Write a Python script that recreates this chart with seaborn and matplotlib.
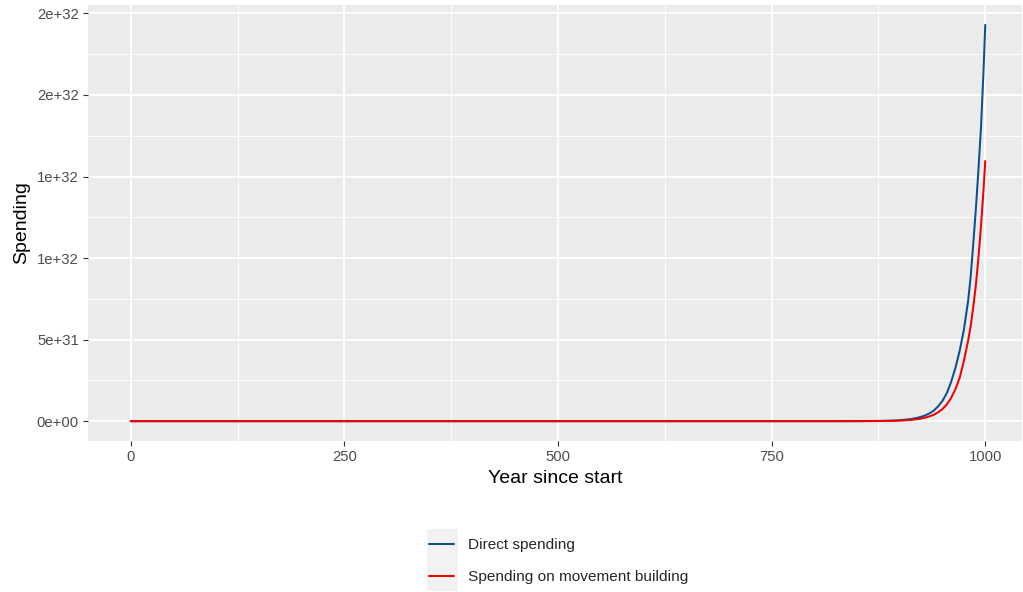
import numpy as np
import pandas as pd
import matplotlib
matplotlib.use("Agg")
import matplotlib.pyplot as plt
from matplotlib.patches import Rectangle
from matplotlib.ticker import FixedLocator, FixedFormatter
import seaborn as sns

# ---- data (spending, year since start)
YEARS = [0, 100, 200, 300, 400, 500, 600, 700, 800, 850, 875, 890, 900, 910, 915, 920,
         925, 930, 935, 940, 945, 950, 955, 960, 965, 970, 975, 980, 983, 986, 989,
         992, 995, 998, 1000]
DIRECT = [0, 0, 0, 0, 0, 0, 0, 0, 5e27, 4e28, 1.5e29, 3.2e29, 6e29, 1.1e30, 1.5e30, 2.0e30,
          2.7e30, 3.6e30, 4.9e30, 6.6e30, 9.2e30, 1.25e31, 1.72e31, 2.4e31, 3.25e31,
          4.3e31, 5.6e31, 7.4e31, 8.9e31, 1.09e32, 1.30e32, 1.54e32, 1.80e32, 2.15e32,
          2.43e32]
MOVEMENT = [0, 0, 0, 0, 0, 0, 0, 0, 3e27, 2e28, 8e28, 1.8e29, 3.5e29, 6.5e29, 9e29, 1.2e30,
            1.6e30, 2.2e30, 3.0e30, 4.0e30, 5.5e30, 7.5e30, 1.02e31, 1.42e31, 1.95e31,
            2.65e31, 3.7e31, 4.95e31, 5.85e31, 7.0e31, 8.35e31, 1.0e32, 1.195e32,
            1.42e32, 1.595e32]
SERIES = ["Direct spending", "Spending on movement building"]
X_TICKS = [0, 250, 500, 750, 1000]
X_MINOR = [125, 375, 625, 875]
Y_TICKS = [0, 5e31, 1e32, 1.5e32, 2e32, 2.5e32]
Y_TICK_LABELS = ["0e+00", "5e+31", "1e+32", "1e+32", "2e+32", "2e+32"]
Y_MINOR = [2.5e31, 7.5e31, 1.25e32, 1.75e32, 2.25e32]

COLORS = {SERIES[0]: "#0B4F93", SERIES[1]: "#F00000"}

df = pd.concat([
    pd.DataFrame({"year": YEARS, "spending": DIRECT, "series": SERIES[0]}),
    pd.DataFrame({"year": YEARS, "spending": MOVEMENT, "series": SERIES[1]}),
], ignore_index=True)

sns.set_theme(style="white")
plt.rcParams["font.family"] = ["Liberation Sans", "DejaVu Sans"]

W, H = 1023, 592
fig = plt.figure(figsize=(W / 100, H / 100), dpi=100)
ax = fig.add_axes([88 / W, (H - 441) / H, (1022 - 88) / W, (441 - 5) / H])
ax.set_facecolor("#EBEBEB")

sns.lineplot(data=df, x="year", y="spending", hue="series", hue_order=SERIES,
             palette=COLORS, linewidth=1.45, ax=ax, zorder=3)

ax.set_xlim(-50, 1043)
ax.set_ylim(-0.05 * 2.43e32, 1.05 * 2.43e32)

ax.xaxis.set_major_locator(FixedLocator(X_TICKS))
ax.xaxis.set_minor_locator(FixedLocator(X_MINOR))
ax.yaxis.set_major_locator(FixedLocator(Y_TICKS))
ax.yaxis.set_major_formatter(FixedFormatter(Y_TICK_LABELS))
ax.yaxis.set_minor_locator(FixedLocator(Y_MINOR))
ax.grid(which="major", color="white", linewidth=1.3)
ax.grid(which="minor", color="white", linewidth=0.65)
ax.set_axisbelow(True)
for s in ax.spines.values():
    s.set_visible(False)
ax.tick_params(which="major", length=3.6, width=0.8, color="#333333",
               labelcolor="#4D4D4D", labelsize=10.7, pad=3)
ax.tick_params(which="minor", length=0)
ax.tick_params(axis="both", which="major", left=True, bottom=True)

ax.set_xlabel("Year since start", fontsize=14, color="black", labelpad=4)
ax.set_ylabel("Spending", fontsize=14, color="black", labelpad=5)

# legend at the bottom, ggplot style with grey key background
ax.get_legend().remove()
handles = [plt.Line2D([], [], color=COLORS[s], linewidth=1.45) for s in SERIES]
fig.patches.append(Rectangle((427 / W, (H - 591) / H), 31 / W, 62 / H,
                             transform=fig.transFigure, facecolor="#F2F2F2",
                             edgecolor="none", zorder=0))
fig.legend(handles, SERIES, loc="upper left", bbox_to_anchor=(429 / W, (H - 538) / H),
           frameon=False, fontsize=11.1, handlelength=1.65, handletextpad=0.9,
           labelspacing=1.17, borderpad=0, borderaxespad=0)

fig.savefig("out.png", dpi=100)
